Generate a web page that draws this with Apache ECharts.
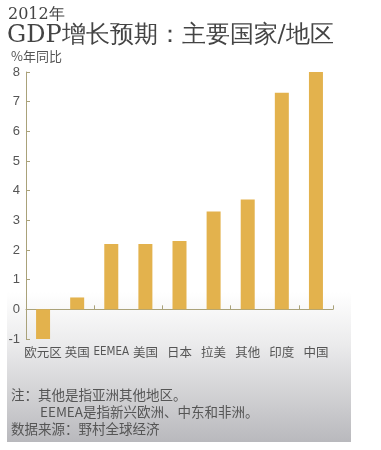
<!DOCTYPE html>
<html><head><meta charset="utf-8">
<script src="https://cdn.jsdelivr.net/npm/echarts@6/dist/echarts.min.js"></script>
<style>html,body{margin:0;padding:0;background:#fff}#c{width:381px;height:450px}</style>
</head><body><div id="c"></div>
<script>
var categories = ['欧元区','英国','EEMEA','美国','日本','拉美','其他','印度','中国'];
var growth = [-1.0, 0.4, 2.2, 2.2, 2.3, 3.3, 3.7, 7.3, 8.0];
var yTicks = [-1,0,1,2,3,4,5,6,7,8];

var chart = echarts.init(document.getElementById('c'));
var txt = '#555';
var axisCol = '#aaa27a';
chart.setOption({
  animation:false,
  backgroundColor:'#fff',
  graphic:[
    {type:'rect', z:-10, shape:{x:7,y:292,width:344,height:150},
     style:{fill:new echarts.graphic.LinearGradient(0,0,0,1,[
       {offset:0,color:'#ffffff'},{offset:0.35,color:'#ebebec'},{offset:1,color:'#b9b9bd'}])}},
    {type:'text', left:8, top:7, style:{text:'2012年', font:'16px "DejaVu Serif", serif', fill:'#444'}},
    {type:'text', left:7, top:24, style:{text:'GDP增长预期：主要国家/地区', font:'24px "DejaVu Serif", serif', fill:'#444'}},
    {type:'text', left:11, top:50, style:{text:'%年同比', font:'13px "Noto Sans CJK SC", sans-serif', fill:txt}},
    {type:'text', left:11, top:388, style:{text:'注：其他是指亚洲其他地区。', font:'13.5px "Noto Sans CJK SC", sans-serif', fill:txt}},
    {type:'text', left:40, top:405, style:{text:'EEMEA是指新兴欧洲、中东和非洲。', font:'13.5px "Noto Sans CJK SC", sans-serif', fill:txt}},
    {type:'text', left:11, top:422, style:{text:'数据来源：野村全球经济', font:'13.5px "Noto Sans CJK SC", sans-serif', fill:txt}}
  ],
  grid:{left:26, right:48, top:72, bottom:111},
  xAxis:[
    {type:'category', data:categories, axisLine:{onZero:true, lineStyle:{color:axisCol,width:1}},
     axisTick:{show:true, inside:true, length:4, lineStyle:{color:axisCol}}, axisLabel:{show:false}},
    {type:'category', data:categories, position:'bottom', axisLine:{show:false, onZero:false}, axisTick:{show:false},
     axisLabel:{color:txt, fontSize:12.5, margin:7, fontFamily:'"Noto Sans CJK SC", sans-serif', interval:0,
       formatter:function(v){ return v==='EEMEA' ? '{n|'+v+'}' : v; },
       rich:{n:{fontFamily:'"Liberation Sans Narrow", "DejaVu Sans Condensed", sans-serif', fontSize:11.5, color:txt}}}}
  ],
  yAxis:{type:'value', min:yTicks[0], max:yTicks[yTicks.length-1], interval:1,
    axisLine:{show:true, lineStyle:{color:axisCol}}, axisTick:{show:true, inside:true, length:4, lineStyle:{color:axisCol}},
    splitLine:{show:false}, axisLabel:{color:txt, fontSize:13, margin:6, fontFamily:'Arial, "Liberation Sans", sans-serif'}},
  series:[{type:'bar', data:growth, barWidth:14, itemStyle:{color:'#e3b24d'}, xAxisIndex:0}]
});
</script></body></html>
